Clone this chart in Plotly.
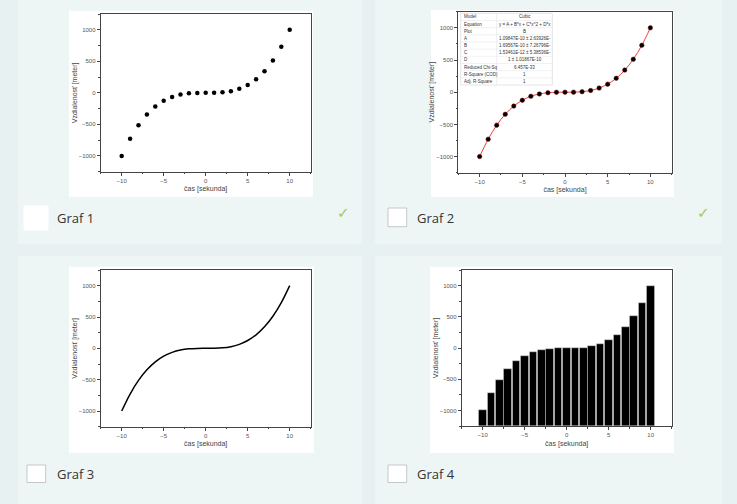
import plotly.graph_objects as go

# ---------------- data ----------------
time_s = [-10, -9, -8, -7, -6, -5, -4, -3, -2, -1, 0, 1, 2, 3, 4, 5, 6, 7, 8, 9, 10]
distance_m = [-1000, -729, -512, -343, -216, -125, -64, -27, -8, -1, 0,
              1, 8, 27, 64, 125, 216, 343, 512, 729, 1000]
x_ticks = [-10, -5, 0, 5, 10]
y_ticks = [-1000, -500, 0, 500, 1000]
x_range = [-12.5, 12.5]
y_range = [-1250, 1250]
graf_labels = ["Graf 1", "Graf 2", "Graf 3", "Graf 4"]
fit_keys = ["Model", "Equation", "Plot", "A", "B", "C", "D",
            "Reduced Chi-Sq", "R-Square (COD)", "Adj. R-Square"]
fit_vals = ["Cubic", "y = A + B*x + C*x^2 + D*x", "B",
            "1.09847E-10 ± 2.63926E-", "1.69567E-10 ± 7.26796E-",
            "1.53461E-12 ± 5.38536E-", "1 ± 1.01867E-10",
            "6.457E-33", "1", "1"]
x_title = "čas [sekunda]"
y_title = "Vzdialenosť [meter]"

W, H = 737, 504
def px(x): return x / W
def py(y): return 1 - y / H

BG = "#e8f1f2"
CARD = "#edf5f5"
AX = "#444444"
TICKF = dict(family="Liberation Sans, Arial", size=6, color="#555555")
TITLEF = dict(family="Liberation Sans, Arial", size=7, color="#444444")

# plot frames in pixels: (left, right, top, bottom)
frames = {1: (100.7, 310.7, 14, 171.7),
          2: (458.3, 671.7, 11.7, 172.7),
          3: (100.7, 310.7, 270, 426.7),
          4: (461.7, 671.7, 270, 426)}
images = {1: (69, 313, 10.7, 196.7),
          2: (431, 674, 10, 197),
          3: (69, 314, 266.7, 452.7),
          4: (430, 674, 266.7, 453)}
cards = {1: (18, 362, 0, 244), 2: (375, 722, 0, 244),
         3: (18, 362, 256, 504), 4: (375, 722, 256, 504)}

fig = go.Figure()

# Graf 1: scatter
fig.add_trace(go.Scatter(x=time_s, y=distance_m, mode="markers",
                         marker=dict(color="black", size=4.5),
                         xaxis="x", yaxis="y", showlegend=False))
# Graf 2: fit line + points
fig.add_trace(go.Scatter(x=time_s, y=distance_m, mode="lines",
                         line=dict(color="#e8413a", width=1, shape="spline"),
                         xaxis="x2", yaxis="y2", showlegend=False))
fig.add_trace(go.Scatter(x=time_s, y=distance_m, mode="markers",
                         marker=dict(color="black", size=4.5, line=dict(color="#7a1010", width=0.5)),
                         xaxis="x2", yaxis="y2", showlegend=False))
# Graf 3: smooth line
fig.add_trace(go.Scatter(x=time_s, y=distance_m, mode="lines",
                         line=dict(color="black", width=1.5, shape="spline"),
                         xaxis="x3", yaxis="y3", showlegend=False))
# Graf 4: bars from the bottom of the axis
fig.add_trace(go.Bar(x=time_s, y=[v - y_range[0] for v in distance_m], base=y_range[0],
                     width=0.9, marker=dict(color="black", line=dict(color="#dddddd", width=0.4)),
                     xaxis="x4", yaxis="y4", showlegend=False))

layout = dict(width=W, height=H, margin=dict(l=0, r=0, t=0, b=0),
              paper_bgcolor=BG, plot_bgcolor="white", bargap=0)

shapes = []
for i in range(1, 5):
    l, r, t, b = cards[i]
    shapes.append(dict(type="rect", xref="paper", yref="paper", x0=px(l), x1=px(r),
                       y0=py(b), y1=py(t), fillcolor=CARD, line=dict(width=0), layer="below"))
    l, r, t, b = images[i]
    shapes.append(dict(type="rect", xref="paper", yref="paper", x0=px(l), x1=px(r),
                       y0=py(b), y1=py(t), fillcolor="white", line=dict(width=0), layer="below"))

    l, r, t, b = frames[i]
    xa = "xaxis" if i == 1 else f"xaxis{i}"
    ya = "yaxis" if i == 1 else f"yaxis{i}"
    xs = "x" if i == 1 else f"x{i}"
    ys = "y" if i == 1 else f"y{i}"
    layout[xa] = dict(domain=[px(l), px(r)], anchor=ys, range=x_range,
                      tickvals=x_ticks, ticks="outside", ticklen=3, tickwidth=0.8, tickcolor=AX,
                      minor=dict(dtick=2.5, tick0=0, ticks="outside", ticklen=1.5, tickcolor=AX),
                      showline=True, linecolor=AX, linewidth=1, mirror=True,
                      showgrid=False, zeroline=False, tickfont=TICKF,
                      title=dict(text=x_title, font=TITLEF, standoff=3))
    layout[ya] = dict(domain=[py(b), py(t)], anchor=xs, range=y_range,
                      tickvals=y_ticks, ticks="outside", ticklen=3, tickwidth=0.8, tickcolor=AX,
                      minor=dict(dtick=250, tick0=0, ticks="outside", ticklen=1.5, tickcolor=AX),
                      showline=True, linecolor=AX, linewidth=1, mirror=True,
                      showgrid=False, zeroline=False, tickfont=TICKF,
                      title=dict(text=y_title, font=TITLEF, standoff=0))
    # inside ticks on the top and right frame edges
    layout[f"xaxis{i + 4}"] = dict(domain=[px(l), px(r)], anchor=ys, overlaying=xs, side="top",
                                   range=x_range, tickvals=x_ticks, ticks="inside", ticklen=2.5,
                                   tickwidth=0.8, tickcolor=AX, showticklabels=False,
                                   showline=False, showgrid=False, zeroline=False)
    layout[f"yaxis{i + 4}"] = dict(domain=[py(b), py(t)], anchor=xs, overlaying=ys, side="right",
                                   range=y_range, tickvals=y_ticks, ticks="inside", ticklen=2.5,
                                   tickwidth=0.8, tickcolor=AX, showticklabels=False,
                                   showline=False, showgrid=False, zeroline=False)

# fit-result table inside Graf 2
tab_l, tab_r, tab_t, tab_b, tab_split = 460.7, 552.3, 13.3, 85.0, 496.7
row_h = (tab_b - tab_t) / len(fit_keys)
annotations = []
shapes.append(dict(type="rect", xref="paper", yref="paper", x0=px(tab_l), x1=px(tab_r),
                   y0=py(tab_b), y1=py(tab_t), fillcolor="white",
                   line=dict(color="#d4d4d4", width=0.6)))
shapes.append(dict(type="line", xref="paper", yref="paper", x0=px(tab_split), x1=px(tab_split),
                   y0=py(tab_b), y1=py(tab_t), line=dict(color="#dcdcdc", width=0.5)))
for k in range(len(fit_keys)):
    yc = tab_t + (k + 0.5) * row_h
    if k > 0:
        yl = tab_t + k * row_h
        shapes.append(dict(type="line", xref="paper", yref="paper", x0=px(tab_l), x1=px(tab_r),
                           y0=py(yl), y1=py(yl), line=dict(color="#e4e4e4", width=0.5)))
    annotations.append(dict(text=fit_keys[k], xref="paper", yref="paper", x=px(tab_l + 1.5),
                            y=py(yc), xanchor="left", yanchor="middle", showarrow=False,
                            font=dict(family="Liberation Sans, Arial", size=4.5, color="#333333")))
    annotations.append(dict(text=fit_vals[k], xref="paper", yref="paper",
                            x=px((tab_split + tab_r) / 2), y=py(yc), xanchor="center",
                            yanchor="middle", showarrow=False,
                            font=dict(family="Liberation Sans, Arial", size=4.5, color="#333333")))

# checkboxes
boxes = {1: (24, 48, 206, 230, False), 2: (388, 406.7, 208, 226.7, True),
         3: (27, 45.7, 465, 482.5, True), 4: (388, 406.7, 465, 482.5, True)}
for i, (l, r, t, b, border) in boxes.items():
    shapes.append(dict(type="rect", xref="paper", yref="paper", x0=px(l), x1=px(r),
                       y0=py(b), y1=py(t), fillcolor="white",
                       line=dict(color="#c4c8c9" if border else "white", width=1)))
layout["shapes"] = shapes

label_pos = {1: (55, 218), 2: (415, 217.5), 3: (55, 474), 4: (415, 474)}
for i, (x, y) in label_pos.items():
    annotations.append(dict(text=graf_labels[i - 1], xref="paper", yref="paper",
                            x=px(x), y=py(y), xanchor="left", yanchor="middle", showarrow=False,
                            font=dict(family="Open Sans", size=13, color="#333333")))
for (x, y) in [(343, 213), (703, 213)]:
    annotations.append(dict(text="✓", xref="paper", yref="paper", x=px(x), y=py(y),
                            xanchor="center", yanchor="middle", showarrow=False,
                            font=dict(family="DejaVu Sans", size=15, color="#9ccc65")))
layout["annotations"] = annotations

fig.update_layout(**layout)
fig.write_html("out.html", config={"displayModeBar": False},
               post_script="document.body.style.margin='0';")
